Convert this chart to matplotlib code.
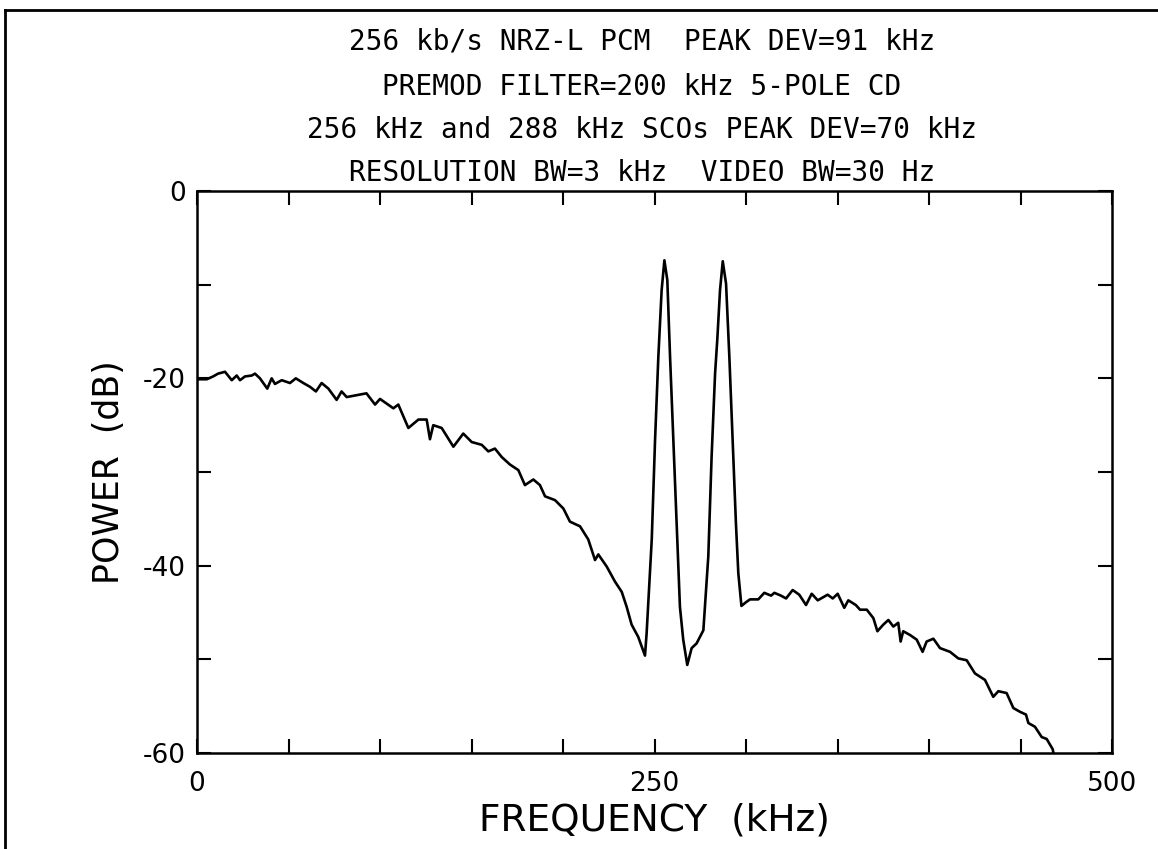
import matplotlib
matplotlib.use("Agg")
import matplotlib.pyplot as plt
from matplotlib.lines import Line2D

plt.rcParams['font.family'] = ['DejaVu Sans']

title_lines = [
    "256 kb/s NRZ-L PCM  PEAK DEV=91 kHz",
    "PREMOD FILTER=200 kHz 5-POLE CD",
    "256 kHz and 288 kHz SCOs PEAK DEV=70 kHz",
    "RESOLUTION BW=3 kHz  VIDEO BW=30 Hz",
]

# spectrum (kHz, dB)
freq_khz = [
    0, 5.3, 8.8, 11.5, 15.3, 19, 21.7, 23.5, 26.2, 29.9,
    31.7, 34.4, 38.4, 40.8, 42.6, 46.3, 50.8, 54, 58.1, 61.7,
    65, 68.1, 71.8, 76.3, 79, 81.8, 87.3, 92.6, 97.3, 100,
    103.7, 107.3, 110, 115.5, 121, 125.5, 127.3, 129.1, 133.7, 140.1,
    145.5, 150.1, 155.6, 159.2, 162.8, 166.5, 171, 175.6, 179.2, 183.8,
    187.4, 190.2, 195.6, 200.2, 203.8, 209.3, 213.8, 217.5, 219.3, 223.9,
    228.4, 232.1, 234.8, 237.5, 241.1, 244.8, 245.7, 248.5, 250.3, 252.1,
    253.9, 255.4, 257, 258.5, 260.3, 262.1, 263.9, 265.7, 267.9, 270.3,
    273, 276.7, 279.4, 281.2, 283.1, 284.3, 285.8, 287.3, 289.1, 290.9,
    292.7, 294.5, 295.8, 297.5, 300, 302.2, 306.7, 310, 313.7, 315.5,
    319.1, 321.9, 325.5, 329.1, 332.8, 335.9, 339.2, 344.6, 347.4, 350.1,
    353.7, 355.9, 360, 362.3, 366, 369.6, 371.8, 375, 377.8, 380.5,
    383.2, 384.5, 385.9, 389.6, 393.3, 396.5, 398.7, 402.4, 406, 411.5,
    416, 420.6, 425.1, 430.6, 435.1, 437.9, 442.4, 446.1, 449.7, 453,
    454.3, 457.9, 461.6, 464.3, 467.6, 468,
]
power_db = [
    -20.1, -20.1, -19.8, -19.5, -19.3, -20.2, -19.7, -20.2, -19.8, -19.7,
    -19.5, -20.0, -21.1, -20.0, -20.6, -20.2, -20.5, -20.0, -20.5, -20.9,
    -21.4, -20.5, -21.1, -22.3, -21.4, -22.0, -21.8, -21.6, -22.8, -22.2,
    -22.7, -23.2, -22.8, -25.3, -24.4, -24.4, -26.5, -25.0, -25.3, -27.3,
    -25.9, -26.8, -27.1, -27.8, -27.5, -28.4, -29.2, -29.8, -31.4, -30.8,
    -31.4, -32.6, -33.0, -33.9, -35.3, -35.8, -37.2, -39.4, -38.8, -40.1,
    -41.7, -42.8, -44.4, -46.3, -47.6, -49.6, -47.2, -37.2, -26.6, -17.7,
    -10.6, -7.4, -9.5, -17.7, -26.6, -35.5, -44.4, -47.9, -50.6, -48.8,
    -48.3, -46.9, -39.0, -28.4, -19.5, -15.9, -10.6, -7.5, -9.9, -17.7,
    -26.6, -35.5, -40.8, -44.3, -43.9, -43.6, -43.6, -42.9, -43.2, -42.9,
    -43.2, -43.5, -42.6, -43.1, -44.2, -43.0, -43.7, -43.1, -43.5, -43.0,
    -44.5, -43.7, -44.2, -44.7, -44.7, -45.6, -47.0, -46.3, -45.8, -46.5,
    -46.1, -48.1, -47.0, -47.4, -47.9, -49.2, -48.1, -47.8, -48.8, -49.2,
    -49.9, -50.1, -51.5, -52.2, -54.0, -53.4, -53.6, -55.2, -55.6, -55.9,
    -56.8, -57.2, -58.3, -58.5, -59.6, -60.0,
]

x_ticks = [0, 250, 500]
y_ticks = [0, -20, -40, -60]

fig = plt.figure(figsize=(11.58, 8.49), dpi=100)
ax = fig.add_axes([197 / 1158, 96 / 849, 915 / 1158, 562 / 849])

ax.plot(freq_khz, power_db, color='black', lw=1.9, solid_joinstyle='round')

ax.set_xlim(0, 500)
ax.set_ylim(-60, 0)
ax.set_xticks(range(0, 501, 50), minor=True)
ax.set_yticks(range(-60, 1, 10), minor=True)
ax.set_xticks(x_ticks)
ax.set_yticks(y_ticks)
ax.set_xticklabels([str(v) for v in x_ticks])
ax.set_yticklabels([str(v) for v in y_ticks])
ax.tick_params(which='both', direction='in', top=True, right=True,
               length=10, width=1.5, labelsize=19)
ax.tick_params(axis='x', which='major', pad=13)
ax.tick_params(axis='y', which='major', pad=8)
for s in ax.spines.values():
    s.set_linewidth(1.8)

ax.set_xlabel('FREQUENCY  (kHz)', fontsize=27, labelpad=4)
ax.set_ylabel('POWER  (dB)', fontsize=25, labelpad=12)

title_y = [42, 87, 130, 173]
for line, yp in zip(title_lines, title_y):
    fig.text(642 / 1158, 1 - yp / 849, line, ha='center', va='center',
             fontsize=20, family='DejaVu Sans Mono')

# outer frame of the scanned page
fig.add_artist(Line2D([5 / 1158, 5 / 1158], [0, 1 - 10 / 849], color='black', lw=2,
                      transform=fig.transFigure))
fig.add_artist(Line2D([5 / 1158, 1], [1 - 10 / 849, 1 - 10 / 849], color='black', lw=2,
                      transform=fig.transFigure))

fig.savefig('out.png', dpi=100)
